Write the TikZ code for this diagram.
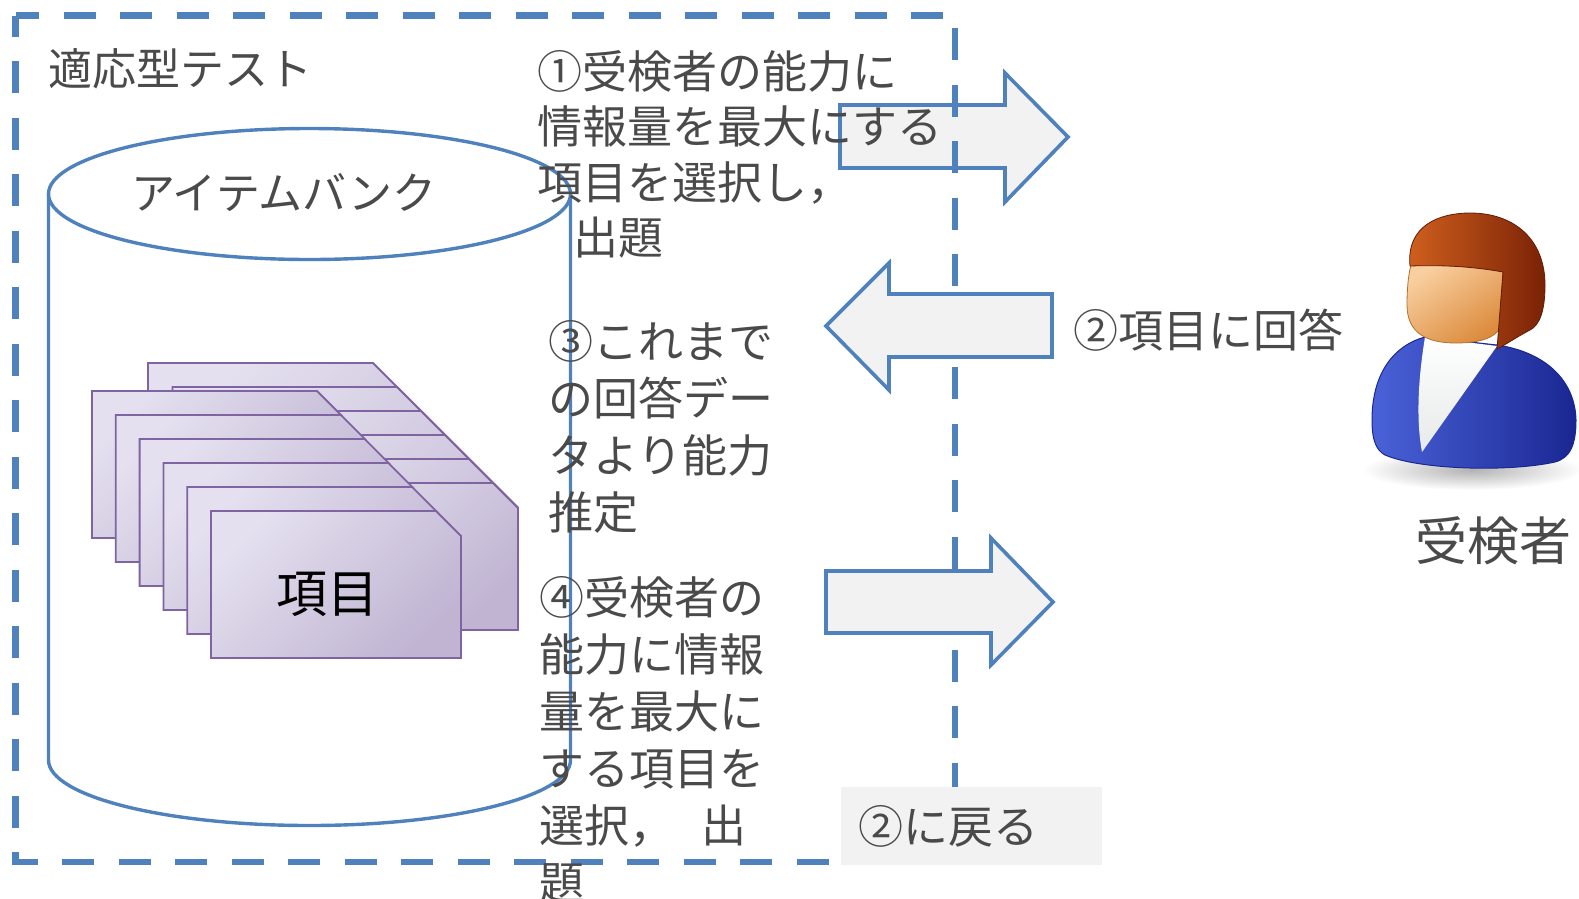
\documentclass[tikz,border=0pt]{standalone}
\usepackage{fontspec}
\newfontfamily\jpfont{Noto Sans CJK JP}
\usetikzlibrary{positioning}

\definecolor{lineblue}{HTML}{4F81BD}
\definecolor{arrowfill}{HTML}{F2F2F2}
\definecolor{cardline}{HTML}{8064A2}
\definecolor{cardlight}{HTML}{E4E0EF}
\definecolor{carddark}{HTML}{C0B4D2}
\definecolor{txtgray}{HTML}{4A4A4A}
\definecolor{hairlight}{HTML}{D0601E}
\definecolor{hairdark}{HTML}{7A2206}
\definecolor{facelight}{HTML}{F9CFA0}
\definecolor{facedark}{HTML}{DC8C3E}
\definecolor{bodylight}{HTML}{4A62D8}
\definecolor{bodydark}{HTML}{1A2792}
\definecolor{shirt}{HTML}{E6EAE8}

\begin{document}
\begin{tikzpicture}[x=1pt, y=-1pt,
    txt/.style={font=\jpfont\fontsize{45}{56}\selectfont, text=txtgray, inner sep=0pt, align=left},
    blockarrow/.style={draw=lineblue, line width=3.6pt, fill=arrowfill, line join=miter},
    bank/.style={draw=lineblue, line width=3.4pt, fill=white},
    card/.style={draw=cardline, line width=1.8pt, shading=axis, top color=cardlight, bottom color=carddark, shading angle=45}]
    \useasboundingbox (0,0) rectangle (1579,898);

    % Item bank cylinder
    \draw[bank] (48.5,194) -- (48.5,760) arc[start angle=180, end angle=0, x radius=261, y radius=65.5] -- (570.5,194);
    \draw[bank] (309.5,194) ellipse [x radius=261, y radius=65.5];
    \node[txt, font=\jpfont\fontsize{44}{56}\selectfont] (bank) at (284,193) {アイテムバンク};

    % Back stack of cards (lower left part stays hidden)
    \foreach \k in {0,...,5} {
        \shade[card] ({148+24.5*\k},{363+24*\k}) -- ({373+24*\k},{363+24*\k}) -- (518,508) -- (518,630) -- (300,630) -- ({148+24.5*\k},500) -- cycle;
    }
    % Front stack of cards
    \foreach \k in {0,...,5} {
        \shade[card] ({92+23.8*\k},{391+24*\k}) -- ++(225,0) -- ++(25,25) -- ++(0,122) -- ++(-250,0) -- cycle;
    }
    \node[txt, text=black, font=\jpfont\fontsize{51}{56}\selectfont] (item) at (327,594) {項目};

    % Arrow out: present the item
    \draw[blockarrow] (840,105) -- (1005,105) -- (1005,73) -- (1068,137) -- (1005,202) -- (1005,168) -- (840,168) -- cycle;

    % Adaptive test frame
    \draw[lineblue, line width=6.5pt, dash pattern=on 32pt off 24.5pt, dash phase=8.5pt]
        (15.5,15.5) -- (955,15.5) -- (955,862) -- (15.5,862) -- cycle;
    \node[txt, font=\jpfont\fontsize{44}{56}\selectfont, anchor=north west] (title) at (48,48) {適応型テスト};

    % Arrow in: the answer
    \draw[blockarrow] (826,326) -- (889,263) -- (889,294) -- (1052,294) -- (1052,357) -- (889,357) -- (889,390) -- cycle;
    % Arrow out: next item
    \draw[blockarrow] (826,571) -- (991,571) -- (991,538) -- (1053,602) -- (991,665) -- (991,633) -- (826,633) -- cycle;

    % Loop back box
    \node[fill=arrowfill, minimum width=261pt, minimum height=78pt, inner sep=0pt, anchor=north west] (retbox) at (841,787) {};
    \node[txt, anchor=west, right=17pt of retbox.west] (ret) {②に戻る};

    % Step texts
    \node[txt, font=\jpfont\fontsize{45}{55.5}\selectfont, anchor=north west] (step1) at (537,50)
        {①受検者の能力に\\情報量を最大にする\\項目を選択し，\\\hspace*{0.8em}出題};
    \node[txt, font=\jpfont\fontsize{45}{57}\selectfont, anchor=north west] (step3) at (548,320)
        {③これまで\\の回答デー\\タより能力\\推定};
    \node[txt, font=\jpfont\fontsize{45}{57}\selectfont, anchor=north west] (step4) at (539,576)
        {④受検者の\\能力に情報\\量を最大に\\する項目を\\選択，\hspace*{0.6em}出\\題};
    \node[txt, anchor=west] (answer) at (1073,330) {②項目に回答};

    % Examinee figure
    \shade[inner color=black!30, outer color=white] (1472,470) ellipse [x radius=110, y radius=20];
    \shade[draw=bodydark, line width=1pt, left color=bodylight, right color=bodydark]
        (1372,420) .. controls (1372,372) and (1395,345) .. (1425,337) -- (1497,345)
        .. controls (1545,352) and (1575,380) .. (1576,420) .. controls (1576,445) and (1570,458) .. (1555,462)
        .. controls (1510,472) and (1420,470) .. (1385,455) .. controls (1376,450) and (1372,440) .. (1372,420) -- cycle;
    \shade[top color=white, bottom color=shirt] (1425,337) -- (1497,346) -- (1422,452) .. controls (1416,420) and (1418,380) .. (1425,337) -- cycle;
    \shade[draw=facedark!80!black, line width=0.8pt, shading=axis, top color=facelight, bottom color=facedark, shading angle=35]
        (1412,262) -- (1503,266) -- (1503,318) .. controls (1502,336) and (1484,343) .. (1456,343)
        .. controls (1428,343) and (1407,334) .. (1407,305) .. controls (1407,285) and (1409,270) .. (1412,262) -- cycle;
    \shade[draw=hairdark!80!black, line width=0.8pt, left color=hairlight, right color=hairdark]
        (1410,266) .. controls (1406,225) and (1440,213) .. (1470,213) .. controls (1515,213) and (1545,240) .. (1545,285)
        .. controls (1545,310) and (1540,325) .. (1530,330) .. controls (1515,338) and (1505,345) .. (1497,349)
        -- (1503,272) .. controls (1470,266) and (1440,265) .. (1410,266) -- cycle;
    \node[txt, font=\jpfont\fontsize{52}{56}\selectfont] (examinee) at (1493,541) {受検者};
\end{tikzpicture}
\end{document}
